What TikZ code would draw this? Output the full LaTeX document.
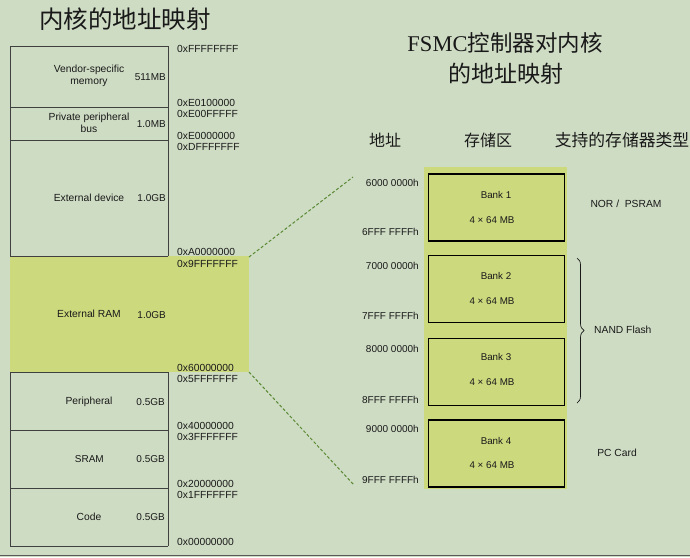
\documentclass[tikz,border=0pt]{standalone}
\usepackage{fontspec}
\setmainfont{Liberation Sans}
\newfontfamily\cjk{Noto Sans CJK SC}
\newfontfamily\serifx{Liberation Serif}
\usetikzlibrary{decorations.pathreplacing}
\definecolor{bgc}{RGB}{207,220,196}
\definecolor{ylw}{RGB}{205,217,125}
\definecolor{dgreen}{RGB}{88,138,52}
\definecolor{ink}{RGB}{25,25,25}
\begin{document}
\begin{tikzpicture}[x=1pt,y=-1pt,
  lbl/.style={font=\fontsize{10.3}{11.5}\selectfont, text=ink, inner sep=0pt, align=center},
  szl/.style={font=\fontsize{10}{11.5}\selectfont, text=ink, inner sep=0pt, anchor=east},
  addr/.style={font=\fontsize{10.3}{12}\selectfont, text=ink, anchor=west, inner sep=0pt},
  baddr/.style={font=\fontsize{10}{11}\selectfont, text=ink, anchor=east, inner sep=0pt},
  bankbox/.style={draw=black, line width=1.8pt, fill=ylw, minimum width=136pt, minimum height=67pt, inner sep=0pt},
  banktxt/.style={font=\fontsize{9.8}{11}\selectfont, text=ink, inner sep=0pt},
  region/.style={draw=black!75, line width=0.8pt},
  link/.style={draw=dgreen, line width=1pt, dash pattern=on 3pt off 2pt},
  hdr/.style={font=\cjk\fontsize{16}{18}\selectfont, text=ink, inner sep=0pt},
  typ/.style={font=\fontsize{10.3}{12}\selectfont, text=ink, inner sep=0pt}
]
\useasboundingbox (0,0) rectangle (690,557);
\fill[bgc] (0,0) rectangle (690,557);
\draw[black!65, line width=1.2pt] (0,555.5) -- (690,555.5);

% titles
\node[font=\cjk\fontsize{24.5}{26}\selectfont, text=ink, inner sep=0pt] (title1) at (125,19) {内核的地址映射};
\node[font=\fontsize{22.5}{24}\selectfont, text=ink, inner sep=0pt] (title2) at (505,43) {{\serifx FSMC}{\cjk 控制器对内核}};
\node[font=\cjk\fontsize{23}{24}\selectfont, text=ink, inner sep=0pt] (title3) at (506,74) {的地址映射};

% memory map column
\fill[ylw] (10,256) rectangle (249,372);
\draw[region] (10,46) -- (10,256) (10,372) -- (10,546);
\draw[region] (168,46) -- (168,256) (168,372) -- (168,546);
\foreach \yy in {46,107,140,256,372,430,488,546}
  \draw[region] (10,\yy) -- (168,\yy);

\node[lbl] (vend) at (89,76) {Vendor-specific\\memory};
\node[szl] (vendsz) at (166,77) {511MB};
\node[lbl] (ppb) at (89,123) {Private peripheral\\bus};
\node[szl] (ppbsz) at (166,124) {1.0MB};
\node[lbl] (extd) at (89,198) {External device};
\node[szl] (extdsz) at (166,198) {1.0GB};
\node[lbl] (extr) at (89,314) {External RAM};
\node[szl] (extrsz) at (166,315) {1.0GB};
\node[lbl] (peri) at (89,402) {Peripheral};
\node[szl] (perisz) at (165,402) {0.5GB};
\node[szl] (sram) at (104,459) {SRAM};
\node[szl] (sramsz) at (165,459) {0.5GB};
\node[lbl] (code) at (89,517) {Code};
\node[szl] (codesz) at (165,517) {0.5GB};

% address labels
\node[addr] (a1) at (177,49) {0xFFFFFFFF};
\node[addr] (a2) at (177,103) {0xE0100000};
\node[addr] (a3) at (177,114) {0xE00FFFFF};
\node[addr] (a4) at (177,136) {0xE0000000};
\node[addr] (a5) at (177,147) {0xDFFFFFFF};
\node[addr] (a6) at (177,252) {0xA0000000};
\node[addr] (a7) at (177,264) {0x9FFFFFFF};
\node[addr] (a8) at (177,368) {0x60000000};
\node[addr] (a9) at (177,379) {0x5FFFFFFF};
\node[addr] (a10) at (177,426) {0x40000000};
\node[addr] (a11) at (177,437) {0x3FFFFFFF};
\node[addr] (a12) at (177,484) {0x20000000};
\node[addr] (a13) at (177,495) {0x1FFFFFFF};
\node[addr] (a14) at (177,542) {0x00000000};

% FSMC side
\node[hdr] (hAddr) at (385,140) {地址};
\node[hdr] (hBank) at (488,140) {存储区};
\node[hdr, font=\cjk\fontsize{16.8}{18}\selectfont] (hType) at (622,140) {支持的存储器类型};

\fill[ylw] (424,167) rectangle (567,489);
\node[bankbox] (bank1) at (496.5,207.5) {};
\node[bankbox] (bank2) at (496.5,289) {};
\node[bankbox] (bank3) at (496.5,372) {};
\node[bankbox] (bank4) at (496.5,453.5) {};

\node[banktxt] (b1n) at (496,195) {Bank 1};
\node[banktxt] (b1s) at (492,220) {4 × 64 MB};
\node[banktxt] (b2n) at (496,276) {Bank 2};
\node[banktxt] (b2s) at (492,301) {4 × 64 MB};
\node[banktxt] (b3n) at (496,357) {Bank 3};
\node[banktxt] (b3s) at (492,382) {4 × 64 MB};
\node[banktxt] (b4n) at (496,441) {Bank 4};
\node[banktxt] (b4s) at (492,465) {4 × 64 MB};

\node[baddr] (f1) at (419,183) {6000 0000h};
\node[baddr] (f2) at (419,232) {6FFF FFFFh};
\node[baddr] (f3) at (419,266) {7000 0000h};
\node[baddr] (f4) at (419,316) {7FFF FFFFh};
\node[baddr] (f5) at (419,349) {8000 0000h};
\node[baddr] (f6) at (419,400) {8FFF FFFFh};
\node[baddr] (f7) at (419,429) {9000 0000h};
\node[baddr] (f8) at (419,480) {9FFF FFFFh};

\node[typ] (nor) at (626,204) {NOR /\ \ PSRAM};
\coordinate (brT) at (577,258);
\coordinate (brB) at (577,403);
\draw[ink, line width=0.7pt, decorate, decoration={brace, amplitude=7pt}] (brT) -- (brB);
\node[typ, anchor=west] (nand) at (594,330) {NAND Flash};
\node[typ] (pcc) at (617,453) {PC Card};

% connectors
\coordinate (ramTop) at (249,257);
\coordinate (ramBot) at (249,372);
\coordinate (fsTop) at (353,177);
\coordinate (fsBot) at (354,485);
\draw[link] (ramTop) -- (fsTop);
\draw[link] (ramBot) -- (fsBot);
\end{tikzpicture}
\end{document}
